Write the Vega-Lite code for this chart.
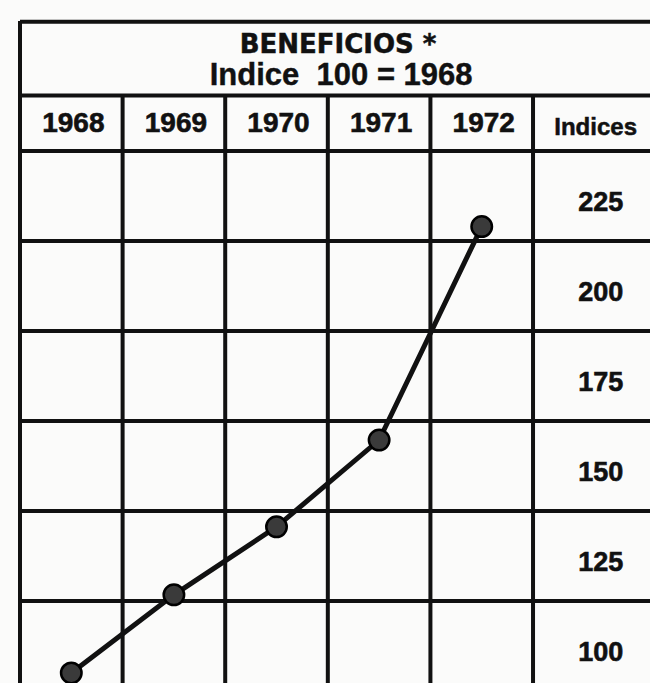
{
  "$schema": "https://vega.github.io/schema/vega-lite/v6.json",
  "width": 630,
  "height": 662,
  "autosize": {"type": "none"},
  "padding": {"left": 20, "top": 21, "right": 0, "bottom": 0},
  "background": "#fbfbfa",
  "config": {"view": {"stroke": null}},
  "datasets": {
    "series": [
      {"year": 1968, "indice": 100},
      {"year": 1969, "indice": 121.7},
      {"year": 1970, "indice": 140.6},
      {"year": 1971, "indice": 164.7},
      {"year": 1972, "indice": 224}
    ],
    "hlines": [
      {"y": 280.9}, {"y": 260.4}, {"y": 245}, {"y": 220}, {"y": 195}, {"y": 170}, {"y": 145}, {"y": 120}
    ],
    "vlines": [
      {"x": 1968.5}, {"x": 1969.5}, {"x": 1970.5}, {"x": 1971.5}, {"x": 1972.5}
    ],
    "years": [
      {"year": 1968, "label": "1968"},
      {"year": 1969, "label": "1969"},
      {"year": 1970, "label": "1970"},
      {"year": 1971, "label": "1971"},
      {"year": 1972, "label": "1972"}
    ],
    "labels": [
      {"label": "225", "y": 228.3},
      {"label": "200", "y": 203.3},
      {"label": "175", "y": 178.3},
      {"label": "150", "y": 153.3},
      {"label": "125", "y": 128.3},
      {"label": "100", "y": 103.3}
    ]
  },
  "layer": [
    {
      "data": {"name": "hlines"},
      "mark": {"type": "rule", "color": "#111", "strokeWidth": 4},
      "encoding": {
        "y": {"field": "y", "type": "quantitative", "scale": {"domain": [97.22, 281.1], "nice": false, "zero": false}, "axis": null}
      }
    },
    {
      "data": {"name": "vlines"},
      "mark": {"type": "rule", "color": "#111", "strokeWidth": 4},
      "encoding": {
        "x": {"field": "x", "type": "quantitative", "scale": {"domain": [1967.5, 1973.64], "nice": false, "zero": false}, "axis": null},
        "y": {"datum": 260.4},
        "y2": {"datum": 97.22}
      }
    },
    {
      "data": {"values": [{"x": 1967.5}]},
      "mark": {"type": "rule", "color": "#111", "strokeWidth": 4},
      "encoding": {
        "x": {"field": "x", "type": "quantitative"}
      }
    },
    {
      "data": {"name": "series"},
      "mark": {"type": "line", "color": "#111", "strokeWidth": 5},
      "encoding": {
        "x": {"field": "year", "type": "quantitative"},
        "y": {"field": "indice", "type": "quantitative"}
      }
    },
    {
      "data": {"name": "series"},
      "mark": {"type": "circle", "size": 420, "fill": "#3a3a3a", "stroke": "#000", "strokeWidth": 2.5, "opacity": 1},
      "encoding": {
        "x": {"field": "year", "type": "quantitative"},
        "y": {"field": "indice", "type": "quantitative"}
      }
    },
    {
      "data": {"name": "years"},
      "mark": {"type": "text", "font": "Liberation Sans", "fontWeight": "bold", "fontSize": 28, "align": "center", "baseline": "alphabetic", "dx": 2, "color": "#111", "stroke": "#111", "strokeWidth": 0.6},
      "encoding": {
        "x": {"field": "year", "type": "quantitative"},
        "y": {"datum": 250.3},
        "text": {"field": "label"}
      }
    },
    {
      "data": {"values": [{"t": "Indices"}]},
      "mark": {"type": "text", "font": "Liberation Sans", "fontWeight": "bold", "fontSize": 24, "align": "center", "baseline": "alphabetic", "color": "#111", "stroke": "#111", "strokeWidth": 0.5},
      "encoding": {
        "x": {"datum": 1973.11},
        "y": {"datum": 249.4},
        "text": {"field": "t"}
      }
    },
    {
      "data": {"name": "labels"},
      "mark": {"type": "text", "font": "Liberation Sans", "fontWeight": "bold", "fontSize": 27, "align": "center", "baseline": "alphabetic", "color": "#111", "stroke": "#111", "strokeWidth": 0.6},
      "encoding": {
        "x": {"datum": 1973.16},
        "y": {"field": "y", "type": "quantitative"},
        "text": {"field": "label"}
      }
    },
    {
      "data": {"values": [{"t": "BENEFICIOS *"}]},
      "mark": {"type": "text", "font": "DejaVu Sans", "fontWeight": "bold", "fontSize": 26, "align": "center", "baseline": "alphabetic", "color": "#111", "stroke": "#111", "strokeWidth": 0.5},
      "encoding": {
        "x": {"datum": 1970.6},
        "y": {"datum": 272.1},
        "text": {"field": "t"}
      }
    },
    {
      "data": {"values": [{"t": "Indice\u00a0\u00a0100 = 1968"}]},
      "mark": {"type": "text", "font": "Liberation Sans", "fontWeight": "bold", "fontSize": 31, "align": "center", "baseline": "alphabetic", "color": "#111", "stroke": "#111", "strokeWidth": 0.4},
      "encoding": {
        "x": {"datum": 1970.63},
        "y": {"datum": 263.3},
        "text": {"field": "t"}
      }
    }
  ]
}
